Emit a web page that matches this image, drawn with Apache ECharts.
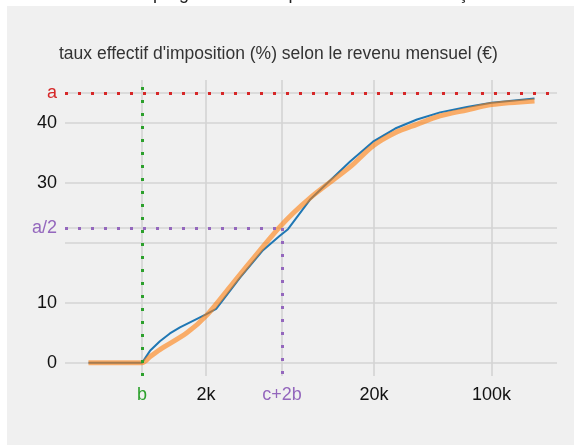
<!DOCTYPE html>
<html>
<head>
<meta charset="utf-8">
<script src="https://cdn.jsdelivr.net/npm/echarts@6/dist/echarts.min.js"></script>
<style>
  html, body { margin: 0; padding: 0; background: #ffffff; }
  #chart { width: 574px; height: 445px; }
</style>
</head>
<body>
<div id="chart"></div>
<script>
// revenu mensuel (€) -> taux effectif (%)
var blueIncome = [400, 833, 929, 1064, 1220, 1400, 1843, 2000, 2300, 3190, 4370, 5500, 6150, 8300, 14400, 19700, 26700, 36000, 49400, 71300, 100000, 180000];
var blueRate   = [0,   0,   2.0, 3.6,  4.9,  5.9,  7.6,  8.1,  9.0,  14.2, 18.8, 21.2, 22.3, 27.2, 33.6,  36.9,  39.1,  40.6,  41.8,  42.7,  43.4,   44.1];

var orangeIncome = [400, 833, 929, 1064, 1540, 2030, 2900, 5500, 8300, 14400, 19700, 26700, 36000, 49400, 71300, 100000, 180000];
var orangeRate   = [0,   0,   1.0, 2.2,  5.0,  8.0,  13.3, 22.7, 27.5, 32.7,  36.2,  38.4,  39.8,  41.2,  42.2,  43.1,   43.7];

// repères
var a = 45;
var b = 833;
var c2b = 5665;

var xTicks = [b, 2000, c2b, 20000, 100000];
var xTickLabels = ['{g|b}', '2k', '{p|c+2b}', '20k', '100k'];
var yTicks = [0, 10, 20, a / 2, 30, 40, a];
var yTickLabels = ['0', '10', '', '{p|a/2}', '30', '40', '{r|a}'];

var xMin = 290, xMax = 245000;
var yMin = -2.2, yMax = 47.2;

function pairs(xs, ys) {
  var out = [];
  for (var i = 0; i < xs.length; i++) out.push([xs[i], ys[i]]);
  return out;
}
function nearestLabel(v, ticks, labels) {
  var best = 0;
  for (var i = 1; i < ticks.length; i++) {
    if (Math.abs(ticks[i] - v) < Math.abs(ticks[best] - v)) best = i;
  }
  return labels[best];
}

var font = 'Liberation Sans';
var rich = {
  r: { color: '#d62728', fontSize: 18, fontFamily: font },
  g: { color: '#2ca02c', fontSize: 18, fontFamily: font },
  p: { color: '#9467bd', fontSize: 18, fontFamily: font }
};
var dots = [3, 10];

var chart = echarts.init(document.getElementById('chart'));
chart.setOption({
  backgroundColor: '#ffffff',
  animation: false,
  graphic: [{
    type: 'rect',
    z: -10,
    shape: { x: 7, y: 6, width: 567, height: 439 },
    style: { fill: '#f0f0f0' }
  }],
  title: [{
    // titre principal, coupé en haut de l'image
    text: "Barème progressif de l'impôt sur le revenu français",
    left: 80,
    top: -20,
    textStyle: { fontFamily: font, fontSize: 18, fontWeight: 'normal', color: '#222' }
  }, {
    text: "taux effectif d'imposition (%) selon le revenu mensuel (€)",
    left: 54,
    top: 40,
    textStyle: { fontFamily: font, fontSize: 17.5, fontWeight: 'normal', color: '#333' }
  }],
  grid: { left: 65, right: 17, top: 80, bottom: 69 },
  xAxis: {
    type: 'log',
    min: xMin,
    max: xMax,
    axisLine: { show: false },
    axisTick: { show: false, customValues: xTicks },
    axisLabel: {
      customValues: xTicks,
      margin: 10,
      fontFamily: font,
      fontSize: 18,
      color: '#111',
      rich: rich,
      formatter: function (v) { return nearestLabel(v, xTicks, xTickLabels); }
    },
    splitLine: { show: true, lineStyle: { color: '#d4d4d4', width: 1.6 } }
  },
  yAxis: {
    type: 'value',
    min: yMin,
    max: yMax,
    axisLine: { show: false },
    axisTick: { show: false, customValues: yTicks },
    axisLabel: {
      customValues: yTicks,
      margin: 8,
      fontFamily: font,
      fontSize: 18,
      color: '#111',
      rich: rich,
      formatter: function (v) { return nearestLabel(v, yTicks, yTickLabels); }
    },
    splitLine: { show: true, lineStyle: { color: '#d4d4d4', width: 1.6 } }
  },
  series: [
    {
      name: 'réel',
      type: 'line',
      showSymbol: false,
      data: pairs(blueIncome, blueRate),
      lineStyle: { color: '#1f77b4', width: 2 },
      markLine: {
        silent: true,
        symbol: 'none',
        label: { show: false },
        data: [
          { yAxis: a, lineStyle: { color: '#d62728', type: dots, width: 3 } },
          { xAxis: b, lineStyle: { color: '#2ca02c', type: dots, width: 3 } },
          [{ coord: [xMin, a / 2], lineStyle: { color: '#9467bd', type: dots, width: 3 } }, { coord: [c2b, a / 2] }],
          [{ coord: [c2b, a / 2], lineStyle: { color: '#9467bd', type: dots, width: 3 } }, { coord: [c2b, yMin] }]
        ]
      }
    },
    {
      name: 'approx',
      type: 'line',
      showSymbol: false,
      smooth: 0.3,
      data: pairs(orangeIncome, orangeRate),
      lineStyle: { color: '#ff7f0e', width: 5, opacity: 0.6 }
    }
  ]
});
</script>
</body>
</html>
